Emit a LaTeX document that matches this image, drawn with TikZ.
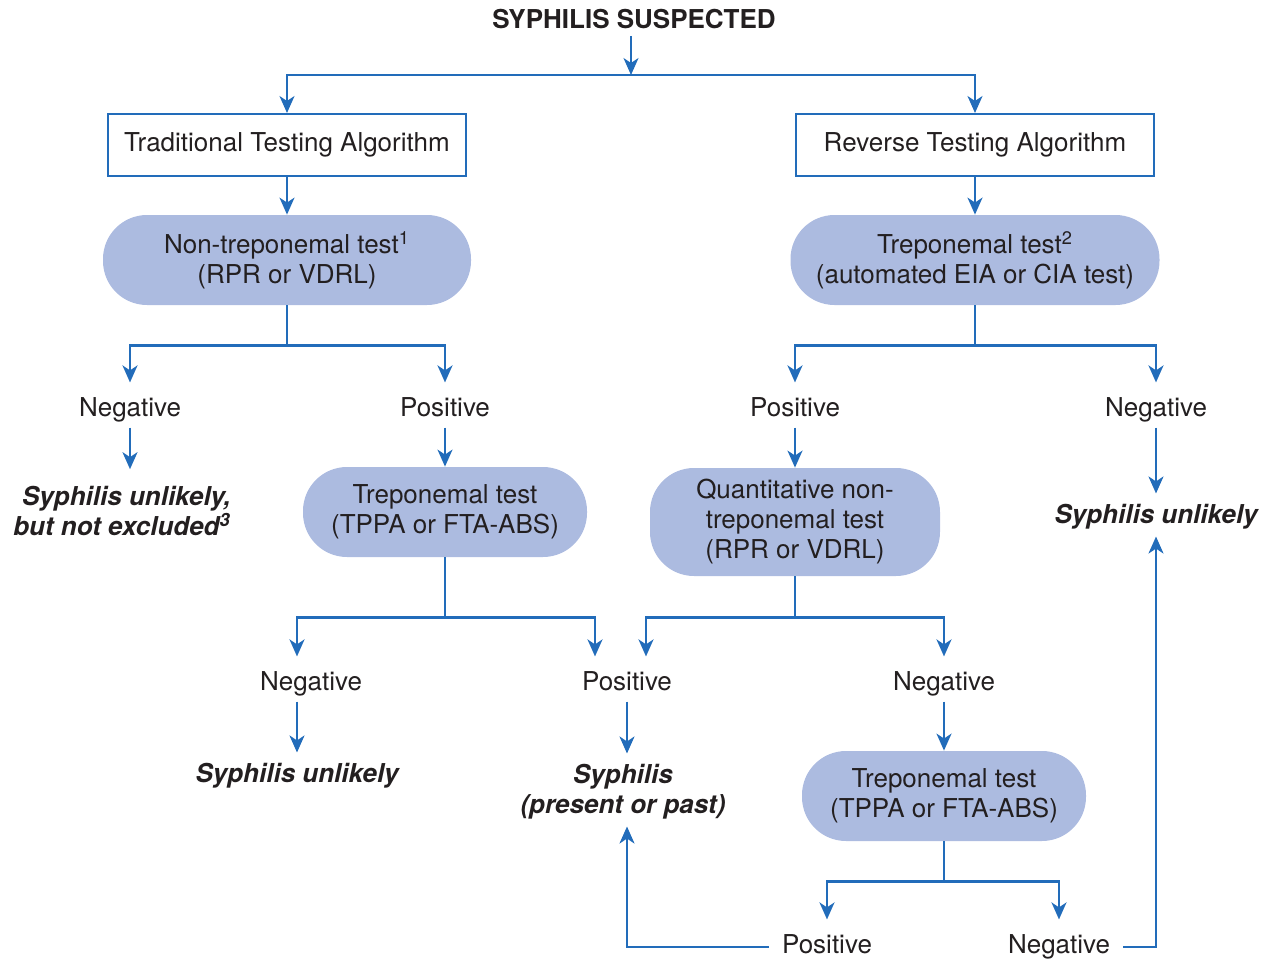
\documentclass[tikz,border=0pt]{standalone}
\usepackage{fontspec}
\setmainfont{TeX Gyre Heros}
\usetikzlibrary{arrows.meta}
\definecolor{flowblue}{RGB}{34,108,186}
\definecolor{pillfill}{RGB}{172,187,224}
\definecolor{inkgray}{RGB}{35,31,32}
\def\drop{40}

\begin{document}
\begin{tikzpicture}[x=0.5pt,y=-0.5pt,
  every node/.style={font=\fontsize{13}{15}\selectfont, text=inkgray, align=center},
  algbox/.style={draw=flowblue, line width=1pt, minimum width=179pt, minimum height=31pt},
  pill/.style={fill=pillfill, rounded corners=22pt, minimum height=45pt, minimum width=142pt},
  lbl/.style={text height=9.5pt, text depth=2.7pt, inner ysep=2.5pt},
  outcome/.style={font=\fontsize{13}{15}\selectfont\bfseries\itshape},
  link/.style={draw=flowblue, line width=1.1pt},
  arr/.style={link, -{Stealth[length=8.5pt,width=7.5pt,inset=2.5pt]}},
  into/.style={shorten >=5pt}]

\useasboundingbox (0,0) rectangle (1266,959);

\node[font=\fontsize{13}{15}\selectfont\bfseries] (start) at (634,19) {SYPHILIS SUSPECTED};
\coordinate (fork0) at (631,75);

\node[algbox] (trad) at (287,145) {Traditional Testing Algorithm};
\node[algbox] (rev) at (975,145) {Reverse Testing Algorithm};

\node[pill, minimum width=184pt] (nontrep) at (287,260) {Non-treponemal test\textsuperscript{1}\\(RPR or VDRL)};
\node[pill, minimum width=184.5pt] (trepR) at (975,260) {Treponemal test\textsuperscript{2}\\(automated EIA or CIA test)};

\node[lbl] (neg1) at (130,410) {Negative};
\node[lbl] (pos1) at (445,410) {Positive};
\node[lbl] (posR) at (795,410) {Positive};
\node[lbl] (negR) at (1156,410) {Negative};

\node[outcome, align=right] (unl1) at (122,511) {Syphilis unlikely,\\but not excluded\textsuperscript{3}};
\node[pill] (trep1) at (445,512) {Treponemal test\\(TPPA or FTA-ABS)};
\node[pill, minimum width=145pt, minimum height=54pt] (quant) at (795,522) {Quantitative non-\\treponemal test\\(RPR or VDRL)};
\node[outcome] (unlR) at (1156,517) {Syphilis unlikely};

\node[lbl] (neg2) at (311,684) {Negative};
\node[lbl] (pos2) at (627,684) {Positive};
\node[lbl] (negQ) at (944,684) {Negative};

\node[outcome] (unl2) at (297,776) {Syphilis unlikely};
\node[outcome] (syph) at (623,792) {Syphilis\\(present or past)};
\node[pill] (trep2) at (944,796) {Treponemal test\\(TPPA or FTA-ABS)};

\node[lbl] (posB) at (827,947) {Positive};
\node[lbl] (negB) at (1059,947) {Negative};

\draw[arr] (start.south -| fork0) -- (fork0);
\draw[arr] (fork0) -| (trad);
\draw[arr] (fork0) -| (rev);
\draw[arr] (trad) -- (nontrep);
\draw[arr] (rev) -- (trepR);

\draw[link] (nontrep.south) -- ++(0,\drop) coordinate (fork1);
\draw[arr, into] (fork1) -| (neg1);
\draw[arr, into] (fork1) -| (pos1);
\draw[link] (trepR.south) -- ++(0,\drop) coordinate (forkR);
\draw[arr, into] (forkR) -| (posR);
\draw[arr, into] (forkR) -| (negR);

\draw[arr, into] (neg1) -- (neg1 |- unl1.north);
\draw[arr] (pos1) -- (trep1);
\draw[arr] (posR) -- (quant);
\draw[arr, shorten >=2pt] (negR) -- (unlR);

\draw[link] (trep1.south) -- ++(0,60) coordinate (fork2);
\draw[arr, into] (fork2) -| (neg2.north -| unl2);
\draw[arr, into] (fork2) -| ([xshift=-16pt]pos2.north);
\draw[link] (quant.south) -- ++(0,41) coordinate (forkQ);
\draw[arr, into] (forkQ) -| ([xshift=9.5pt]pos2.north);
\draw[arr, into] (forkQ) -| (negQ);

\draw[arr, shorten >=2pt] (neg2.south -| unl2) -- (unl2);
\draw[arr, shorten >=2pt] (pos2) -- (pos2 |- syph.north);
\draw[arr] (negQ) -- (trep2);

\draw[link] (trep2.south) -- ++(0,\drop) coordinate (forkB);
\draw[arr, into] (forkB) -| (posB);
\draw[arr, into] (forkB) -| (negB);

\draw[arr, shorten <=3pt] (posB.west) -| (pos2 |- syph.south);
\draw[arr, shorten <=3pt] (negB.east) -| (unlR);

\end{tikzpicture}
\end{document}
